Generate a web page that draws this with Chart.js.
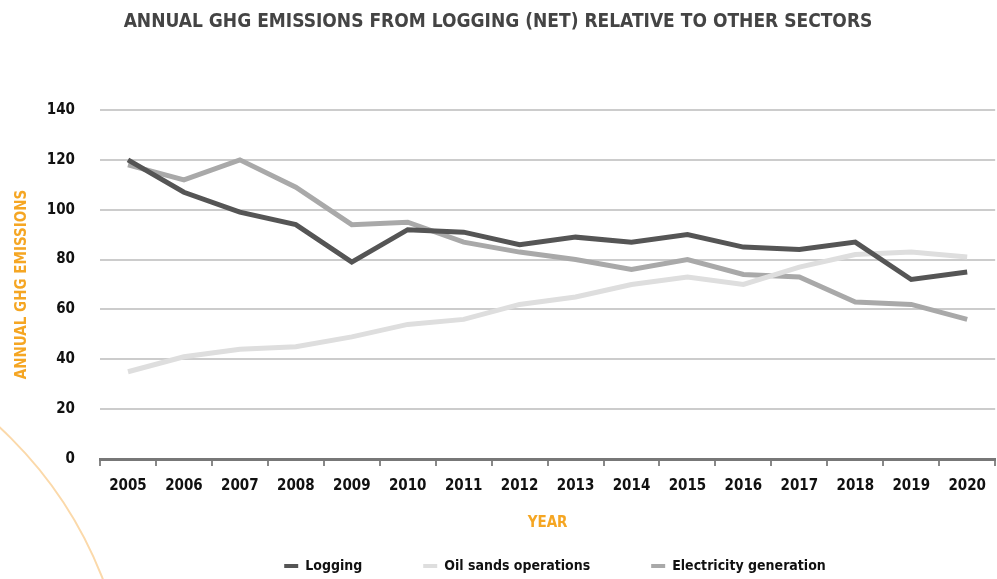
<!DOCTYPE html>
<html>
<head>
<meta charset="utf-8">
<script src="https://cdn.jsdelivr.net/npm/chart.js@4.4.0/dist/chart.umd.min.js"></script>
<style>
  html, body { margin: 0; padding: 0; background: #fff; }
  #wrap { width: 997px; height: 579px; position: relative; }
</style>
</head>
<body>
<div id="wrap"><canvas id="ghgChart"></canvas></div>
<script>
// data
const years = ['2005', '2006', '2007', '2008', '2009', '2010', '2011', '2012',
               '2013', '2014', '2015', '2016', '2017', '2018', '2019', '2020'];
const logging = [120, 107, 99, 94, 79, 92, 91, 86, 89, 87, 90, 85, 84, 87, 72, 75];
const oilSands = [35, 41, 44, 45, 49, 54, 56, 62, 65, 70, 73, 70, 77, 82, 83, 81];
const electricity = [118, 112, 120, 109, 94, 95, 87, 83, 80, 76, 80, 74, 73, 63, 62, 56];
const yTicks = [0, 20, 40, 60, 80, 100, 120, 140];

const FONT = "'DejaVu Sans Condensed', 'DejaVu Sans', sans-serif";
const ORANGE = '#f5a623';

// faint orange arc in the lower left corner
const arcPlugin = {
    id: 'cornerArc',
    beforeDraw(chart) {
        const ctx = chart.ctx;
        ctx.save();
        ctx.strokeStyle = '#fbd9aa';
        ctx.lineWidth = 2;
        ctx.beginPath();
        ctx.arc(-275, 725, 405, -Math.PI / 2, 0);
        ctx.stroke();
        ctx.restore();
    }
};

// the legend in the original sits a bit right of the page centre
const legendShift = {
    id: 'legendShift',
    afterLayout(chart) {
        if (!chart.legend) return;
        chart.legend.left += 57;
        chart.legend.right += 57;
    }
};

function line(label, data, color) {
    return {
        label: label,
        data: data,
        borderColor: color,
        backgroundColor: color,
        borderWidth: 5,
        pointRadius: 0,
        tension: 0,
        fill: false
    };
}

document.addEventListener('DOMContentLoaded', function () {
    const ctx = document.getElementById('ghgChart').getContext('2d');
    new Chart(ctx, {
        type: 'line',
        data: {
            labels: years,
            datasets: [
                line('Logging', logging, '#555555'),
                line('Oil sands operations', oilSands, '#dedede'),
                line('Electricity generation', electricity, '#a9a9a9')
            ]
        },
        options: {
            responsive: true,
            maintainAspectRatio: false,
            animation: false,
            layout: { padding: { left: 0, right: 1, top: 0, bottom: -4 } },
            plugins: {
                title: {
                    display: true,
                    text: 'ANNUAL GHG EMISSIONS FROM LOGGING (NET) RELATIVE TO OTHER SECTORS',
                    color: '#444444',
                    font: { family: FONT, size: 19, weight: 'bold' },
                    padding: { top: 10.6, bottom: 76.6 }
                },
                legend: {
                    position: 'bottom',
                    labels: {
                        color: '#111111',
                        font: { family: FONT, size: 14, weight: 'bold' },
                        boxWidth: 14,
                        boxHeight: 4,
                        padding: 61,
                        generateLabels(chart) {
                            const items = Chart.defaults.plugins.legend.labels.generateLabels(chart);
                            items.forEach(it => { it.lineWidth = 0; });
                            return items;
                        }
                    }
                },
                tooltip: { enabled: false }
            },
            scales: {
                x: {
                    offset: true,
                    grid: {
                        offset: true,
                        drawOnChartArea: false,
                        drawTicks: true,
                        tickLength: 7,
                        color: '#888888',
                        lineWidth: 2
                    },
                    border: { display: true, color: '#777777', width: 3 },
                    ticks: {
                        color: '#111111',
                        font: { family: FONT, size: 15, weight: 'bold' },
                        padding: 11,
                        maxRotation: 0,
                        autoSkip: false
                    },
                    // negative padding: the title takes no layout height and sits
                    // in the legend's empty top padding instead
                    title: {
                        display: true,
                        text: 'YEAR',
                        color: ORANGE,
                        font: { family: FONT, size: 15, weight: 'bold' },
                        padding: { top: 8, bottom: -34 }
                    }
                },
                y: {
                    min: 0,
                    max: 140,
                    afterBuildTicks(scale) {
                        scale.ticks = yTicks.map(v => ({ value: v }));
                    },
                    afterFit(scale) { scale.width = 100; },
                    grid: {
                        color: '#cccccc',
                        lineWidth: 2,
                        drawTicks: false
                    },
                    border: { display: false },
                    ticks: {
                        color: '#111111',
                        font: { family: FONT, size: 15, weight: 'bold' },
                        padding: 25
                    },
                    title: {
                        display: true,
                        text: 'ANNUAL GHG EMISSIONS',
                        color: ORANGE,
                        font: { family: FONT, size: 15, weight: 'bold' },
                        padding: { top: 13, bottom: 0 }
                    }
                }
            }
        },
        plugins: [arcPlugin, legendShift]
    });
});
</script>
</body>
</html>
